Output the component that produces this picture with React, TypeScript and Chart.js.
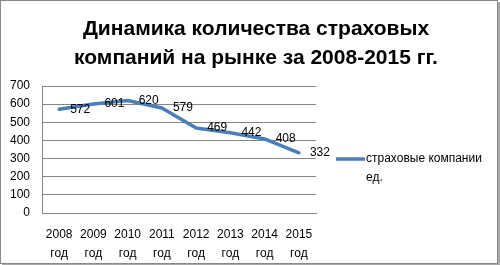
import React, { useEffect, useRef } from "react";
import { Chart, registerables } from "chart.js";

Chart.register(...registerables);

const titleLines = ["Динамика количества страховых", "компаний на рынке за 2008-2015 гг."];
const categories = [
  ["2008", "год"],
  ["2009", "год"],
  ["2010", "год"],
  ["2011", "год"],
  ["2012", "год"],
  ["2013", "год"],
  ["2014", "год"],
  ["2015", "год"],
];
const values = [572, 601, 620, 579, 469, 442, 408, 332];
const seriesName = ["страховые компании", "ед."];
const yMin = 0;
const yMax = 700;
const yStep = 100;

const LINE_COLOR = "#4A7EBB";
const GRID_COLOR = "#868686";
const TEXT_COLOR = "#000000";
const FONT = "'Liberation Sans', Arial, sans-serif";

const overlayPlugin = {
  id: "overlay",
  afterDatasetsDraw(chart: any) {
    const ctx = chart.ctx;
    const area = chart.chartArea;
    ctx.save();
    // title
    ctx.fillStyle = TEXT_COLOR;
    ctx.font = `bold 21px ${FONT}`;
    ctx.textAlign = "center";
    ctx.textBaseline = "middle";
    titleLines.forEach((t, i) => ctx.fillText(t, 256, 29 + i * 29));

    // data labels
    const meta = chart.getDatasetMeta(0);
    ctx.font = `12px ${FONT}`;
    ctx.textAlign = "left";
    ctx.textBaseline = "middle";
    meta.data.forEach((pt: any, i: number) => {
      ctx.fillText(String(values[i]), pt.x + 11, pt.y);
    });

    // legend
    const lx = area.right + 20;
    const ly = 159;
    ctx.strokeStyle = LINE_COLOR;
    ctx.lineWidth = 3.5;
    ctx.beginPath();
    ctx.moveTo(lx, ly);
    ctx.lineTo(lx + 29, ly);
    ctx.stroke();
    ctx.fillStyle = TEXT_COLOR;
    seriesName.forEach((t, i) => ctx.fillText(t, lx + 30, ly + i * 19));
    ctx.restore();
  },
};

export default function App() {
  const ref = useRef<HTMLCanvasElement>(null);
  useEffect(() => {
    if (!ref.current) return;
    const chart = new Chart(ref.current, {
      type: "line",
      data: {
        labels: categories,
        datasets: [
          {
            label: seriesName.join(" "),
            data: values,
            borderColor: LINE_COLOR,
            backgroundColor: LINE_COLOR,
            borderWidth: 3.5,
            pointRadius: 0,
            tension: 0,
            borderJoinStyle: "round",
            borderCapStyle: "round",
          },
        ],
      },
      options: {
        responsive: false,
        animation: false,
        layout: { padding: { top: 86, right: 184, bottom: 4, left: 0 } },
        plugins: {
          legend: { display: false },
          title: { display: false },
          tooltip: { enabled: false },
        },
        scales: {
          x: {
            offset: true,
            grid: { display: false, drawTicks: false },
            border: { display: true, color: GRID_COLOR, width: 1 },
            ticks: {
              color: TEXT_COLOR,
              font: { family: FONT, size: 12, lineHeight: 1.6 },
              padding: 12,
              maxRotation: 0,
              autoSkip: false,
            },
            afterFit: (s: any) => {
              s.height = 48;
            },
          },
          y: {
            min: yMin,
            max: yMax,
            grid: { color: GRID_COLOR, drawTicks: false, lineWidth: 1 },
            border: { display: true, color: GRID_COLOR, width: 1 },
            ticks: {
              stepSize: yStep,
              color: TEXT_COLOR,
              font: { family: FONT, size: 12 },
              padding: 12,
            },
            afterFit: (s: any) => {
              s.width = 42;
            },
          },
        },
      },
      plugins: [overlayPlugin],
    });
    return () => chart.destroy();
  }, []);
  return (
    <div
      style={{
        position: "absolute",
        left: 0,
        top: 0,
        width: 500,
        height: 265,
        background: "#fff",
      }}
    >
      <canvas ref={ref} width={500} height={265} style={{ position: "absolute", left: 0, top: 0 }} />
      <div
        style={{
          position: "absolute",
          left: 0,
          top: 0,
          width: 496,
          height: 262,
          border: "1px solid #8a8a8a",
          boxShadow: "2px 2px 0 #a8a8a8",
          pointerEvents: "none",
        }}
      />
    </div>
  );
}
